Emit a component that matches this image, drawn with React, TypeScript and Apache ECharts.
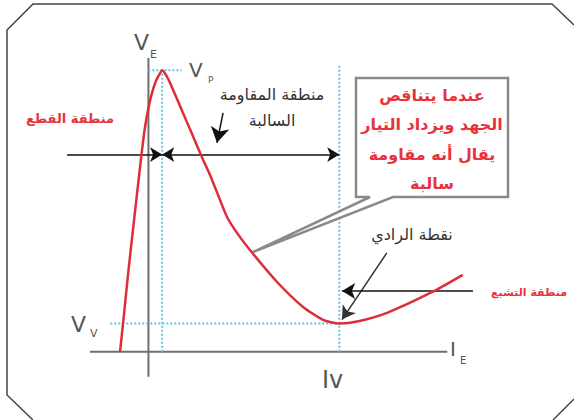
import React, { useEffect, useRef } from "react";
import * as echarts from "echarts";

// Characteristic curve of the UJT (I_E on x, V_E on y)
const curveX = [-1.488, -1.284, -1.043, -0.781, -0.545, -0.335, -0.178, -0.021, 0.173, 0.372, 0.555, 0.72, 0.948, 1.221, 1.745, 2.269, 2.793, 3.227, 3.751, 4.118, 4.64, 5.32, 6.79, 8.1, 9.15, 10.0, 11.0, 12.5, 14.9, 16.47];
const curveY = [0, 1.304, 2.902, 4.501, 5.922, 7.165, 7.982, 8.586, 9.155, 9.581, 9.83, 10, 9.794, 9.414, 8.586, 7.758, 6.927, 6.277, 5.389, 4.785, 4.22, 3.61, 2.44, 1.59, 1.13, 1.0, 1.08, 1.38, 2.13, 2.73];

const peakI = 0.72; // Ip
const peakV = 10; // Vp
const valleyI = 10; // Iv
const valleyV = 1; // Vv

// axis extents
const xAxisSpan = [-3.06, 15.66];
const yAxisSpan = [-0.89, 10.43];

// annotation arrows (data coordinates)
const arrowLevel = 7;
const cutoffArrow = [[-4.26, arrowLevel], [peakI, arrowLevel]];
const negResArrow = [[peakI, arrowLevel], [valleyI, arrowLevel]];
const negResDown = [[3.91, 8.48], [3.59, 7.42]];
const valleyArrow = [[12.49, 3.51], [10.14, 1.14]];
const saturationArrow = [[17.0, 2.16], [10.14, 2.16]];

const labels = {
  cutoff: "منطقة القطع",
  negRes1: "منطقة المقاومة",
  negRes2: "السالبة",
  valley: "نقطة الرادي",
  saturation: "منطقة التشبع",
  note: ["عندما يتناقص", "الجهد ويزداد التيار", "يقال أنه مقاومة", "سالبة"],
};

const RED = "#de2c3a";
const TXT_RED = "#e8323c";
const GRAY = "#6f6f6f";
const CYAN = "#62c6df";
const AR = "DejaVu Sans";

export default function App() {
  const ref = useRef<HTMLDivElement>(null);
  useEffect(() => {
    const chart = echarts.init(ref.current!, undefined, { renderer: "svg" });
    const line = (pts: number[][], color: string, width: number, type: string, z = 2) => ({
      type: "line",
      data: pts,
      symbol: "none",
      silent: true,
      z,
      lineStyle: { color, width, type },
    });
    const arrow = (pts: number[][], both: boolean, color = "#111", size = 11) => [
      { coord: pts[0], symbol: both ? "arrow" : "none", symbolSize: [size, size * 1.1], lineStyle: { color } },
      { coord: pts[1], symbol: "arrow", symbolSize: [size, size * 1.1], lineStyle: { color } },
    ];
    const note = labels.note.map((t, i) => ({
      type: "text",
      x: 432,
      y: 95 + i * 29.5,
      z: 20,
      style: { text: t, fill: TXT_RED, font: `bold 16px "${AR}"`, align: "center", verticalAlign: "middle" },
    }));
    chart.setOption({
      animation: false,
      backgroundColor: "#fff",
      grid: { left: 53, right: 82, top: 42, bottom: 12 },
      xAxis: { type: "value", min: -5, max: 18, show: false },
      yAxis: { type: "value", min: -2, max: 11, show: false },
      series: [
        line([[0, yAxisSpan[0]], [0, yAxisSpan[1]]], GRAY, 2, "solid"),
        {
          ...line([[xAxisSpan[0], 0], [xAxisSpan[1], 0]], GRAY, 2, "solid"),
          markLine: {
            silent: true,
            animation: false,
            label: { show: false },
            lineStyle: { color: "#111", width: 1.5, type: "solid" },
            data: [
              arrow(cutoffArrow, false),
              arrow(negResArrow, true),
              arrow(negResDown, false, "#111", 14),
              arrow(valleyArrow, false, "#333", 12),
              arrow(saturationArrow, false, "#111", 12),
            ],
          },
        },
        line([[peakI, 0], [peakI, peakV]], CYAN, 2, "dotted"),
        line([[0, peakV], [1.75, peakV]], CYAN, 2, "dotted"),
        line([[valleyI, 0], [valleyI, 10.2]], CYAN, 2, "dotted"),
        line([[-2, valleyV], [valleyI, valleyV]], CYAN, 2, "dotted"),
        {
          type: "line",
          data: curveX.map((x, i) => [x, curveY[i]]),
          symbol: "none",
          smooth: 0.2,
          z: 5,
          lineStyle: { color: RED, width: 2.5 },
        },
      ],
      graphic: [
        // frame
        {
          type: "polyline",
          z: 1,
          shape: { points: [[574, 25], [552, 4], [33, 4], [7, 30], [7, 395], [33, 420]] },
          style: { stroke: "#444", lineWidth: 1.5, fill: null },
        },
        { type: "line", z: 1, shape: { x1: 553, y1: 420, x2: 574, y2: 399 }, style: { stroke: "#444", lineWidth: 1.5 } },
        // callout
        {
          type: "polygon",
          z: 15,
          shape: { points: [[370, 197], [356, 197], [356, 78], [508, 78], [508, 197], [393, 197], [253, 252]] },
          style: { stroke: "#8a8a8a", lineWidth: 2.5, fill: "#fff" },
        },
        ...note,
        // axis labels
        { type: "text", x: 134, y: 31, z: 20, style: { text: "V", fill: "#555", font: '22px "DejaVu Sans"' } },
        { type: "text", x: 150, y: 49, z: 20, style: { text: "E", fill: "#555", font: '11px "DejaVu Sans"' } },
        { type: "text", x: 189, y: 60, z: 20, style: { text: "V", fill: "#555", font: '20px "DejaVu Sans"' } },
        { type: "text", x: 208, y: 75, z: 20, style: { text: "P", fill: "#555", font: '9px "DejaVu Sans"' } },
        { type: "text", x: 71, y: 313, z: 20, style: { text: "V", fill: "#555", font: '22px "DejaVu Sans"' } },
        { type: "text", x: 90, y: 328, z: 20, style: { text: "V", fill: "#555", font: '11px "DejaVu Sans"' } },
        { type: "text", x: 450, y: 339, z: 20, style: { text: "I", fill: "#555", font: '20px "DejaVu Sans"' } },
        { type: "text", x: 460, y: 355, z: 20, style: { text: "E", fill: "#555", font: '10px "DejaVu Sans"' } },
        { type: "text", x: 322, y: 368, z: 20, style: { text: "Iv", fill: "#555", font: '24px "DejaVu Sans"' } },
        // Arabic annotations
        { type: "text", x: 70, y: 118, z: 20, style: { text: labels.cutoff, fill: TXT_RED, font: `bold 13px "${AR}"`, align: "center", verticalAlign: "middle" } },
        { type: "text", x: 272, y: 94, z: 20, style: { text: labels.negRes1, fill: "#333", font: `16px "${AR}"`, align: "center", verticalAlign: "middle" } },
        { type: "text", x: 272, y: 120, z: 20, style: { text: labels.negRes2, fill: "#333", font: `16px "${AR}"`, align: "center", verticalAlign: "middle" } },
        { type: "text", x: 412, y: 234, z: 20, style: { text: labels.valley, fill: "#333", font: `16px "${AR}"`, align: "center", verticalAlign: "middle" } },
        { type: "text", x: 529, y: 292, z: 20, style: { text: labels.saturation, fill: TXT_RED, font: `bold 11px "${AR}"`, align: "center", verticalAlign: "middle" } },
      ],
    });
    return () => chart.dispose();
  }, []);
  return <div ref={ref} style={{ position: "fixed", left: 0, top: 0, width: 574, height: 420 }} />;
}
